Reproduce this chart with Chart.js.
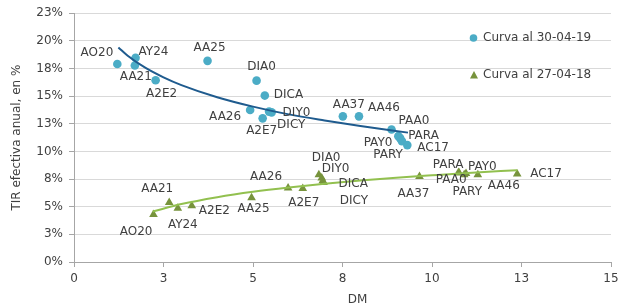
<!DOCTYPE html>
<html>
<head>
<meta charset="utf-8">
<script src="https://cdn.jsdelivr.net/npm/chart.js@4.4.1/dist/chart.umd.min.js"></script>
<style>
  html, body { margin: 0; padding: 0; background: #fff; }
  #wrap { width: 624px; height: 306px; }
</style>
</head>
<body>
<div id="wrap"><canvas id="chartCurvas"></canvas></div>
<script>
// Curva de bonos: TIR vs duration modificada (DM)
const serie19 = 'Curva al 30-04-19';
const serie18 = 'Curva al 27-04-18';

const bonos19 = ['AO20', 'AY24', 'AA21', 'A2E2', 'AA25', 'DIA0', 'DICA', 'AA26', 'A2E7', 'DIY0', 'DICY', 'AA37', 'AA46', 'PAA0', 'PAY0', 'PARA', 'PARY', 'AC17'];
const dm19  = [1.21, 1.72, 1.70, 2.28, 3.73, 5.10, 5.33, 4.92, 5.27, 5.52, 5.45, 7.51, 7.96, 8.87, 9.06, 9.11, 9.16, 9.31];
const tir19 = [17.9, 18.46, 17.77, 16.43, 18.19, 16.4, 15.05, 13.74, 12.99, 13.53, 13.6, 13.17, 13.17, 11.98, 11.38, 11.2, 10.93, 10.57];

const bonos18 = ['AO20', 'AA21', 'AY24', 'A2E2', 'AA25', 'AA26', 'A2E7', 'DIA0', 'DIY0', 'DICA', 'DICY', 'AA37', 'PARA', 'PAA0', 'PARY', 'PAY0', 'AA46', 'AC17'];
const dm18  = [2.22, 2.66, 2.90, 3.29, 4.96, 5.98, 6.39, 6.84, 6.92, 6.97, 6.95, 9.65, 10.74, 10.76, 10.90, 10.95, 11.28, 12.38];
const tir18 = [4.3, 5.38, 4.87, 5.08, 5.8, 6.7, 6.65, 7.9, 7.6, 7.2, 7.35, 7.73, 8.09, 8.05, 7.9, 8.0, 7.9, 7.95];

// líneas de tendencia
const tendDm19  = [1.24, 1.5, 2, 2.5, 3, 4, 5, 6, 7, 8, 9.33];
const tendTir19 = [19.4, 18.65, 17.55, 16.7, 16.0, 14.9, 14.05, 13.35, 12.8, 12.3, 11.7];
const tendDm18  = [2.2, 3, 4, 5, 6, 7, 8, 9, 10, 11, 12.38];
const tendTir18 = [4.57, 5.24, 5.86, 6.35, 6.74, 7.07, 7.36, 7.62, 7.84, 8.05, 8.3];

// ubicación de etiquetas: [alineación, dx, dy]
const posEtiq19 = {
  AO20: ['right', -4, -11], AY24: ['left', 3, -6], AA21: ['center', 1, 11], A2E2: ['center', 6, 14],
  AA25: ['center', 2, -13], DIA0: ['center', 5, -14], DICA: ['left', 9, -1], AA26: ['right', -9, 7],
  A2E7: ['center', -1, 13], DIY0: ['left', 11, 0], DICY: ['left', 8, 13], AA37: ['center', 6, -11],
  AA46: ['left', 9, -8], PAA0: ['left', 7, -9], PARA: ['left', 8, -2], AC17: ['left', 10, 3],
  PAY0: ['right', -6, 7], PARY: ['right', 1, 14]
};
const posEtiq18 = {
  AO20: ['right', -1, 17], AA21: ['right', 4, -14], AY24: ['center', 5, 17], A2E2: ['left', 7, 5],
  AA25: ['center', 2, 11], AA26: ['right', -6, -11], A2E7: ['center', 1, 14], DIA0: ['left', -7, -17],
  DIY0: ['left', 0, -9], DICA: ['left', 15, 1], DICY: ['left', 17, 20], AA37: ['center', -6, 17],
  PARA: ['right', 5, -8], PAY0: ['left', 2, -7], PAA0: ['center', -8, 7], PARY: ['center', 3, 17],
  AA46: ['left', 10, 11], AC17: ['left', 13, 0]
};

const FONT = 'DejaVu Sans';
const TXT = '#404040';
const AZUL = '#4bacc6';
const VERDE = '#77933c';

const pares = (xs, ys) => xs.map((x, i) => ({ x, y: ys[i] }));

const etiquetasPlugin = {
  id: 'etiquetas',
  afterDatasetsDraw(chart) {
    const ctx = chart.ctx;
    ctx.save();
    ctx.font = '12px "' + FONT + '"';
    ctx.fillStyle = TXT;
    ctx.textBaseline = 'middle';
    [[0, bonos19, posEtiq19], [1, bonos18, posEtiq18]].forEach(([di, nombres, pos]) => {
      chart.getDatasetMeta(di).data.forEach((pt, i) => {
        const p = pos[nombres[i]] || ['left', 6, 0];
        ctx.textAlign = p[0];
        ctx.fillText(nombres[i], pt.x + p[1], pt.y + p[2]);
      });
    });
    ctx.restore();
  }
};

const leyendaPlugin = {
  id: 'leyenda',
  afterDraw(chart) {
    const ctx = chart.ctx;
    ctx.save();
    ctx.font = '12px "' + FONT + '"';
    ctx.textBaseline = 'middle';
    ctx.textAlign = 'left';
    // círculo
    ctx.fillStyle = AZUL;
    ctx.beginPath();
    ctx.arc(473.5, 38, 3.8, 0, Math.PI * 2);
    ctx.fill();
    // triángulo
    ctx.fillStyle = VERDE;
    ctx.beginPath();
    ctx.moveTo(474, 71);
    ctx.lineTo(478, 78.5);
    ctx.lineTo(470, 78.5);
    ctx.closePath();
    ctx.fill();
    ctx.fillStyle = TXT;
    ctx.fillText(serie19, 483, 38);
    ctx.fillText(serie18, 483, 75);
    // título eje X
    const ca = chart.chartArea;
    ctx.textAlign = 'center';
    ctx.fillText('DM', (ca.left + ca.right) / 2 + 15, 300);
    ctx.restore();
  }
};

new Chart(document.getElementById('chartCurvas'), {
  type: 'scatter',
  data: {
    datasets: [
      { label: serie19, data: pares(dm19, tir19), backgroundColor: AZUL, borderColor: AZUL, borderWidth: 0, pointRadius: 4.3, pointStyle: 'circle', order: 2 },
      { label: serie18, data: pares(dm18, tir18), backgroundColor: VERDE, borderColor: VERDE, borderWidth: 0, pointRadius: 5, pointStyle: 'triangle', order: 2 },
      { label: 'tend19', data: pares(tendDm19, tendTir19), type: 'line', showLine: true, borderColor: '#1f5b8e', borderWidth: 2, pointRadius: 0, cubicInterpolationMode: 'monotone', fill: false, order: 0 },
      { label: 'tend18', data: pares(tendDm18, tendTir18), type: 'line', showLine: true, borderColor: '#92c04f', borderWidth: 2, pointRadius: 0, cubicInterpolationMode: 'monotone', fill: false, order: 0 }
    ]
  },
  options: {
    responsive: true,
    maintainAspectRatio: false,
    animation: false,
    layout: { padding: { left: 0, right: 13, top: 11, bottom: 0 } },
    plugins: { legend: { display: false }, tooltip: { enabled: false } },
    scales: {
      x: {
        type: 'linear', min: 0, max: 15,
        afterFit: s => { s.height = 44; },
        border: { color: '#a6a6a6', width: 1 },
        grid: { drawOnChartArea: false, drawTicks: true, tickLength: 5, tickColor: '#a6a6a6' },
        ticks: { stepSize: 2.5, padding: 5, color: TXT, font: { family: FONT, size: 12 }, callback: v => Math.round(v) }
      },
      y: {
        type: 'linear', min: 0, max: 22.5,
        afterFit: s => { s.width = 74; },
        border: { color: '#a6a6a6', width: 1 },
        grid: { color: '#d9d9d9', borderDash: [3, 3], tickLength: 5, tickColor: '#a6a6a6' },
        title: { display: true, text: 'TIR efectiva anual, en %', color: TXT, font: { family: FONT, size: 12 }, padding: { top: 10, bottom: 0 } },
        ticks: { stepSize: 2.5, padding: 6, color: TXT, font: { family: FONT, size: 12 }, callback: v => Math.round(v) + '%' }
      }
    }
  },
  plugins: [etiquetasPlugin, leyendaPlugin]
});
</script>
</body>
</html>
